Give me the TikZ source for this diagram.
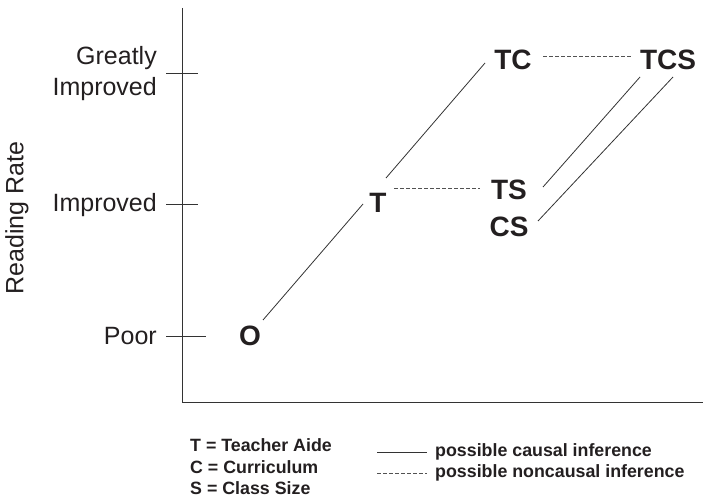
\documentclass[tikz,border=0pt]{standalone}
\usepackage{fontspec}
\setmainfont{Liberation Sans}
\usetikzlibrary{calc}
\definecolor{ink}{HTML}{231F20}
\definecolor{lne}{HTML}{333333}
\tikzset{
  ax/.style={draw=lne, line width=0.9pt},
  causal/.style={draw=lne, line width=0.8pt},
  noncausal/.style={draw=lne!85, line width=0.8pt, dash pattern=on 4pt off 2pt},
  lvl/.style={text=ink, font=\fontsize{25}{28}\selectfont, inner sep=0pt, align=right},
  cond/.style={text=ink, font=\fontsize{28}{30}\selectfont\bfseries, inner sep=0pt},
  leg/.style={text=ink, font=\fontsize{17.8}{20}\selectfont\bfseries, inner sep=0pt, anchor=west},
}
\begin{document}
\begin{tikzpicture}[x=1pt,y=-1pt]
\useasboundingbox (0,0) rectangle (703,497);
% axes
\coordinate (ytop) at (182,8);
\coordinate (orig) at (182,402);
\coordinate (xend) at (703,402);
\draw[ax] (ytop) -- (orig) -- (xend);
% ticks
\coordinate (t1a) at (166,73); \coordinate (t1b) at (198,73);
\coordinate (t2a) at (166,204); \coordinate (t2b) at (198,204);
\coordinate (t3a) at (166,336); \coordinate (t3b) at (206,336);
\draw[ax] (t1a) -- (t1b);
\draw[ax] (t2a) -- (t2b);
\draw[ax] (t3a) -- (t3b);
% level labels
\node[lvl, anchor=east] (lgi) at (157,74) {Greatly\\[3pt]Improved};
\node[lvl, anchor=east] (limp) at (157,205) {Improved};
\node[lvl, anchor=east] (lpoor) at (157,336) {Poor};
\node[lvl, rotate=90] (yl) at (17,218) {Reading Rate};
% condition nodes
\node[cond] (O) at (250,336) {O};
\node[cond] (T) at (378,203) {T};
\node[cond] (TC) at (513,60) {TC};
\node[cond] (TCS) at (668,60) {TCS};
\node[cond] (TS) at (509,190) {TS};
\node[cond] (CS) at (509,227) {CS};
% connectors
\draw[causal] ($(O)+(13,-16)$) -- ($(T)+(-15,1)$);
\draw[causal] ($(T)+(8,-25)$) -- ($(TC)+(-28,3)$);
\draw[noncausal] ($(T)+(16,-15)$) -- ($(TS)+(-29,-2)$);
\draw[noncausal] ($(TC)+(30,-4)$) -- ($(TCS)+(-36,-4)$);
\draw[causal] ($(TS)+(34,-3)$) -- ($(TCS)+(-28,17)$);
\draw[causal] ($(CS)+(29,-6)$) -- ($(TCS)+(5,17)$);
% legend
\node[leg] (k1) at (190,445) {T = Teacher Aide};
\node[leg] (k2) at (190,467) {C = Curriculum};
\node[leg] (k3) at (190,488) {S = Class Size};
\coordinate (s1) at (377,452); \coordinate (s2) at (427,452);
\coordinate (d1) at (377,473); \coordinate (d2) at (427,473);
\draw[causal] (s1) -- (s2);
\draw[noncausal] (d1) -- (d2);
\node[leg] (c1) at (435,452) {possible causal inference};
\node[leg] (c2) at (435,473) {possible noncausal inference};
\end{tikzpicture}
\end{document}
